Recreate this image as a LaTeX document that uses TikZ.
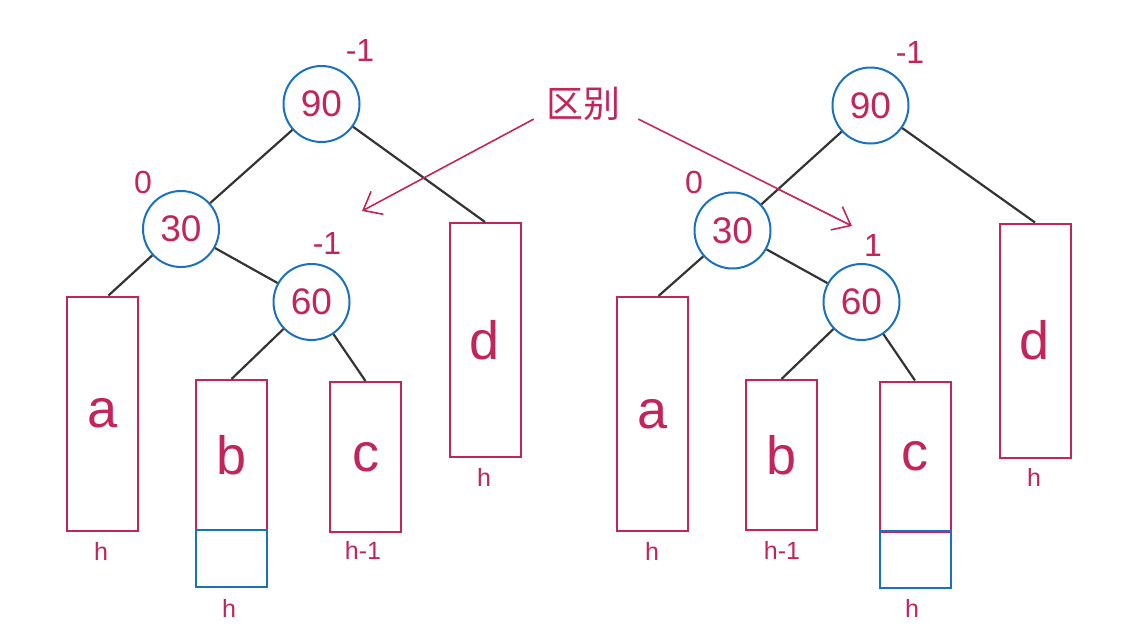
\documentclass[tikz,border=0pt]{standalone}
\usepackage{fontspec}
\setmainfont{Liberation Sans}
\newfontfamily\cjk{Noto Sans CJK SC}
\usetikzlibrary{arrows.meta}
\definecolor{pk}{HTML}{C2255C}
\definecolor{bl}{HTML}{1971C2}
\definecolor{ln}{HTML}{343434}
\tikzset{
  circ/.style={circle,draw=bl,line width=1pt,minimum size=38pt,inner sep=0pt,text=pk,font=\fontsize{18.5}{20}\selectfont},
  tall/.style={rectangle,draw=pk,line width=1pt,minimum width=35.5pt,minimum height=117pt,inner sep=0pt,text=pk,font=\fontsize{27}{30}\selectfont},
  mid/.style={tall,minimum height=75pt},
  extra/.style={rectangle,draw=bl,line width=1pt,minimum width=35.5pt,minimum height=28.5pt,inner sep=0pt},
  bal/.style={text=pk,inner sep=0pt,font=\fontsize{16}{18}\selectfont},
  hl/.style={text=pk,inner sep=0pt,font=\fontsize{12.5}{14}\selectfont},
  edge/.style={draw=ln,line width=1.1pt},
  diffarrow/.style={draw=pk,line width=0.8pt,-{Straight Barb[length=8pt,width=13pt,line width=0.8pt]}}
}
\begin{document}
\begin{tikzpicture}[x=0.5pt,y=-0.5pt]
\useasboundingbox (0,0) rectangle (1137,627);
% ---------- left tree ----------
\node[circ] (L90) at (321.5,104) {90};
\node[circ] (L30) at (181,229) {30};
\node[circ] (L60) at (311.5,302) {60};
\node[bal] (Lb90) at (360,50) {-1};
\node[bal] (Lb30) at (143,182) {0};
\node[bal] (Lb60) at (327,243) {-1};
\node[tall] (La) at (102.5,413.5) {a};
\node[mid] (Lbb) at (231.5,455) {b};
\node[extra] (Lx) at (231.5,558.5) {};
\node[mid] (Lc) at (365.5,457) {c};
\node[tall] (Ld) at (485,340) {d};
\node[hl] (Lha) at (101,551) {h};
\node[hl] (Lhx) at (229,608) {h};
\node[hl] (Lhc) at (363,550) {h-1};
\node[hl] (Lhd) at (484,477) {h};
\draw[edge] (L90) -- (L30);
\draw[edge] (L90) -- (Ld.north);
\draw[edge] (L30) -- ([xshift=3pt]La.north);
\draw[edge] (L30) -- (L60);
\draw[edge] (L60) -- (Lbb.north);
\draw[edge] (L60) -- (Lc.north);
% ---------- right tree ----------
\node[circ] (R90) at (870.5,105.5) {90};
\node[circ] (R30) at (732.5,230.5) {30};
\node[circ] (R60) at (861.5,302) {60};
\node[bal] (Rb90) at (910,52) {-1};
\node[bal] (Rb30) at (694,182) {0};
\node[bal] (Rb60) at (873,245) {1};
\node[tall] (Ra) at (652.5,414) {a};
\node[mid] (Rbb) at (781.5,455) {b};
\node[mid] (Rc) at (915,456.5) {c};
\node[extra] (Rx) at (915,559.5) {};
\node[tall] (Rd) at (1035,340.5) {d};
\node[hl] (Rha) at (652,551) {h};
\node[hl] (Rhb) at (782,550) {h-1};
\node[hl] (Rhx) at (912,608) {h};
\node[hl] (Rhd) at (1034,477) {h};
\draw[edge] (R90) -- (R30);
\draw[edge] (R90) -- (Rd.north);
\draw[edge] (R30) -- ([xshift=3pt]Ra.north);
\draw[edge] (R30) -- (R60);
\draw[edge] (R60) -- (Rbb.north);
\draw[edge] (R60) -- (Rc.north);
% ---------- difference label ----------
\node[text=pk,inner sep=1pt,font=\cjk\fontsize{18.5}{20}\selectfont] (diff) at (583,104) {区别};
\coordinate (tipL) at (362,211);
\coordinate (tipR) at (852,226);
\draw[diffarrow] ([xshift=-5pt,yshift=2pt]diff.south west) -- (tipL);
\draw[diffarrow] ([xshift=8pt,yshift=2pt]diff.south east) -- (tipR);
\end{tikzpicture}
\end{document}
